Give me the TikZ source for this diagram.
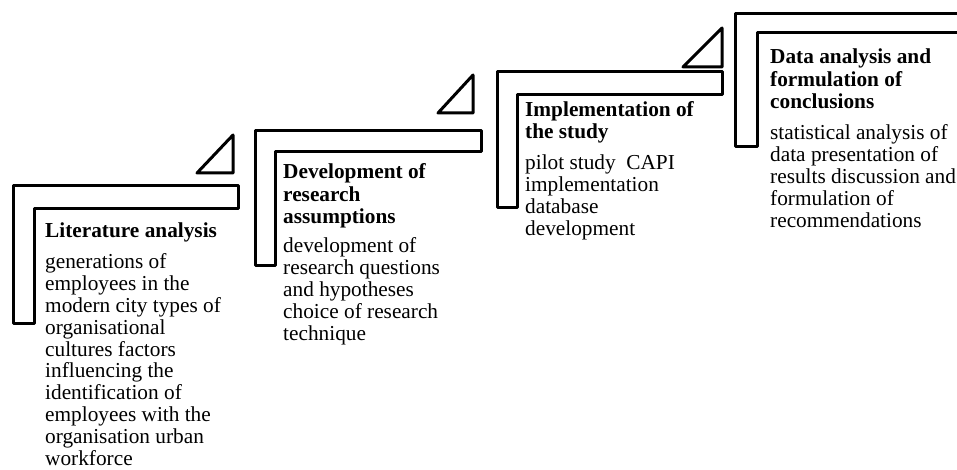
\documentclass[tikz,border=0pt]{standalone}
\usepackage{fontspec}
\setmainfont{Liberation Serif}
\begin{document}
\begin{tikzpicture}[x=1pt,y=-1pt,
  stair/.style={draw=black,line width=3pt,line join=round},
  tri/.style={draw=black,line width=3pt,line join=round},
  head/.style={anchor=base west,inner sep=0pt,align=left,font=\fontsize{21.3}{22.5}\selectfont\bfseries},
  body/.style={anchor=base west,inner sep=0pt,align=left,font=\fontsize{21.3}{21.8}\selectfont}]
\useasboundingbox (0,0) rectangle (957,470);
\clip (0,0) rectangle (957,470);
% steps
\draw[stair] (13,186) -- (238,186) -- (238,209) -- (34,209) -- (34,323) -- (13,323) -- cycle;
\draw[stair] (255,131) -- (481,131) -- (481,152) -- (275,152) -- (275,265) -- (255,265) -- cycle;
\draw[stair] (497,72) -- (722,72) -- (722,95) -- (517,95) -- (517,208) -- (497,208) -- cycle;
\draw[stair] (735,14) -- (975,14) -- (975,33) -- (757,33) -- (757,147) -- (735,147) -- cycle;
% triangles
\draw[tri] (233,135) -- (233,173) -- (197,173) -- cycle;
\draw[tri] (473,75) -- (473,113) -- (438,113) -- cycle;
\draw[tri] (722,28) -- (722,67) -- (683,67) -- cycle;
% texts (anchored at the baseline of the last line)
\node[head] (h1) at (45,237) {Literature analysis};
\node[body] (b1) at (45,465) {generations of\\employees in the\\modern city types of\\organisational\\cultures factors\\influencing the\\identification of\\employees with the\\organisation urban\\workforce};
\node[head] (h2) at (283,224) {Development of\\research\\assumptions};
\node[body] (b2) at (283,340) {development of\\research questions\\and hypotheses\\choice of research\\technique};
\node[head] (h3) at (525,139) {Implementation of\\the study};
\node[body] (b3) at (525,235) {pilot study\ \ CAPI\\implementation\\database\\development};
\node[head] (h4) at (770,109) {Data analysis and\\formulation of\\conclusions};
\node[body] (b4) at (770,227) {statistical analysis of\\data presentation of\\results discussion and\\formulation of\\recommendations};
\end{tikzpicture}
\end{document}
